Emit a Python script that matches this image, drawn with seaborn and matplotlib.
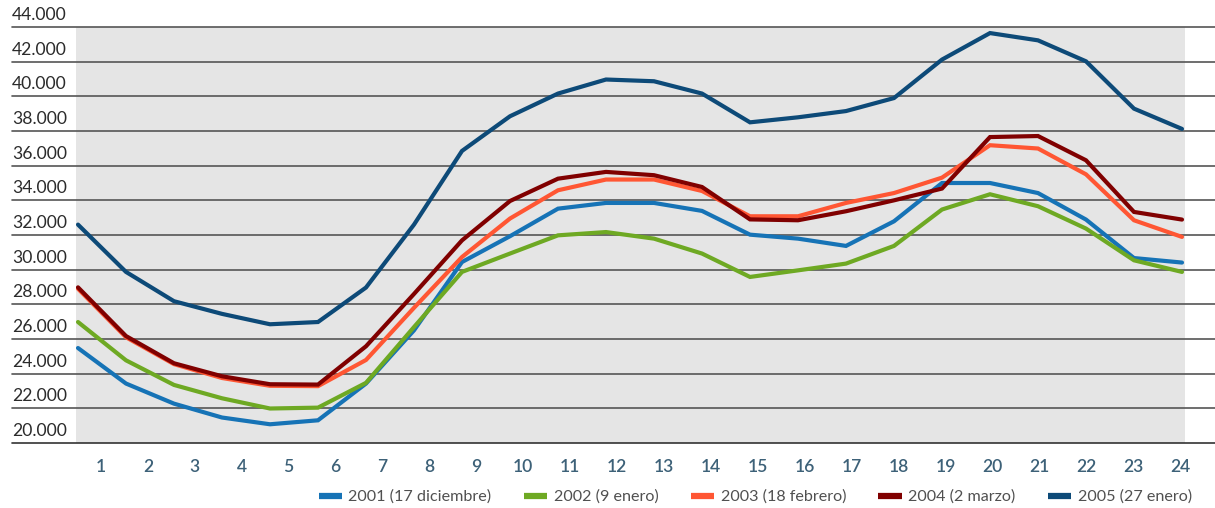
import numpy as np
import pandas as pd
import matplotlib
matplotlib.use("Agg")
import matplotlib.pyplot as plt
import matplotlib.transforms as mtransforms
from matplotlib.lines import Line2D
import seaborn as sns

# ---------------- data ----------------
hours = list(range(1, 25))
series_names = ["2001 (17 diciembre)", "2002 (9 enero)", "2003 (18 febrero)",
                "2004 (2 marzo)", "2005 (27 enero)"]
v2001 = [25480, 23430, 22270, 21470, 21080, 21310, 23430, 26500, 30440, 31930, 33520, 33850,
         33850, 33390, 32020, 31790, 31370, 32790, 35000, 35000, 34420, 32890, 30670, 30410]
v2002 = [26980, 24770, 23350, 22580, 21990, 22040, 23470, 26690, 29870, 30930, 31980, 32170,
         31790, 30930, 29580, 29960, 30350, 31370, 33470, 34350, 33660, 32370, 30540, 29870]
v2003 = [28900, 26100, 24550, 23750, 23300, 23280, 24790, 27800, 30730, 32950, 34580, 35200,
         35200, 34540, 33080, 33080, 33850, 34420, 35310, 37180, 36990, 35500, 32850, 31890]
v2004 = [28980, 26170, 24600, 23850, 23390, 23370, 25580, 28600, 31690, 33960, 35250, 35640,
         35450, 34770, 32900, 32850, 33370, 34000, 34680, 37650, 37710, 36310, 33330, 32890]
v2005 = [32600, 29870, 28180, 27450, 26850, 26980, 28970, 32600, 36850, 38850, 40160, 40970,
         40870, 40160, 38500, 38790, 39150, 39900, 42120, 43650, 43230, 42020, 39290, 38120]
y_ticks = list(range(20000, 44001, 2000))
colors = ["#1673b6", "#6ea923", "#ff5633", "#800000", "#0d4a78"]

values = [v2001, v2002, v2003, v2004, v2005]
df = pd.DataFrame({
    "hora": hours * len(series_names),
    "valor": [v for s in values for v in s],
    "serie": [n for n in series_names for _ in hours],
})

# ---------------- figure ----------------
sns.set_theme(style="white")
plt.rcParams["font.family"] = ["Lato", "DejaVu Sans"]

W, H = 1215, 508
fig = plt.figure(figsize=(W / 100, H / 100), dpi=100)
ax_l, ax_r, ax_t, ax_b = 76, 1185, 27, 443
ax = fig.add_axes([ax_l / W, (H - ax_b) / H, (ax_r - ax_l) / W, (ax_b - ax_t) / H])
ax.set_facecolor("#e5e5e5")
for s in ax.spines.values():
    s.set_visible(False)

# vertex spacing in pixels -> data limits
step = 48.0
first_px = 78
ax.set_xlim(1 + (ax_l - first_px) / step, 1 + (ax_r - first_px) / step)
ax.set_ylim(20000, 44000)

# gridlines extending beyond the grey panel
xmin_ax = (12 - ax_l) / (ax_r - ax_l)
xmax_ax = (1215 - ax_l) / (ax_r - ax_l)
for v in y_ticks:
    ax.axhline(v, xmin=xmin_ax, xmax=xmax_ax, color="#555555" if v > 20000 else "#333333",
               lw=1.2, clip_on=False, zorder=1)

sns.lineplot(data=df, x="hora", y="valor", hue="serie", hue_order=series_names,
             palette=colors, linewidth=3.0, legend=False, ax=ax, zorder=3)
for ln in ax.get_lines():
    ln.set_solid_joinstyle("miter")

ax.set_xlabel("")
ax.set_ylabel("")
ax.set_xticks([])
ax.set_yticks([])

# y labels: above each gridline, left aligned at x=12px
ytrans = mtransforms.blended_transform_factory(ax.transAxes, ax.transData) + \
    mtransforms.ScaledTranslation(0, 7 / 100, fig.dpi_scale_trans)
for v in y_ticks:
    ax.text(xmin_ax, v, f"{v:,}".replace(",", "."), transform=ytrans, ha="left",
            va="baseline", fontsize=12.6, color="#2b2b2b")

# x labels
lab_px = np.linspace(101, 1180, len(hours))
xtrans = mtransforms.blended_transform_factory(ax.transData, ax.transAxes) + \
    mtransforms.ScaledTranslation(0, -28.5 / 100, fig.dpi_scale_trans)
for h, px in zip(hours, lab_px):
    ax.text(1 + (px - first_px) / step, 0, str(h), transform=xtrans, ha="center",
            va="baseline", fontsize=12.6, color="#3d6178", fontweight="semibold")

# legend
handles = [Line2D([0], [0], color=c, lw=4.5, solid_capstyle="butt") for c in colors]
leg = fig.legend(handles, series_names, loc="center right", ncol=5,
                 bbox_to_anchor=(1192 / W, (H - 497) / H), frameon=False,
                 fontsize=11.6, handlelength=1.43, handletextpad=0.43,
                 columnspacing=2.0, borderaxespad=0, borderpad=0)
for t in leg.get_texts():
    t.set_color("#505050")

fig.savefig("out.png", dpi=100)
